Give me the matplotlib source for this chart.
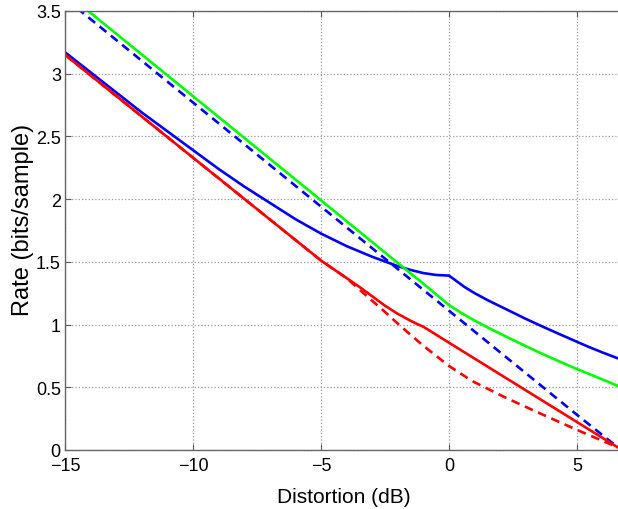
import numpy as np
import matplotlib
matplotlib.use('Agg')
import matplotlib.pyplot as plt
from matplotlib.ticker import FuncFormatter

plt.rcParams['font.family'] = ['Liberation Sans', 'DejaVu Sans']
plt.rcParams['axes.unicode_minus'] = True

# curvas (distorsion en dB, tasa en bits/muestra)
blue_x = [-15, -14, -13, -12, -11, -10, -9, -8, -7, -6, -5, -4, -3, -2, -1.5, -1, -0.5, 0,
          0.3, 0.6, 1, 1.5, 2, 2.5, 3, 3.5, 4, 4.5, 5, 5.5, 6, 6.6]
blue_y = [3.17, 3.01, 2.85, 2.69, 2.54, 2.39, 2.24, 2.10, 1.97, 1.84, 1.725, 1.625, 1.54, 1.465, 1.435, 1.41, 1.395, 1.39,
          1.345, 1.30, 1.25, 1.195, 1.145, 1.095, 1.045, 0.998, 0.952, 0.907, 0.862, 0.818, 0.777, 0.73]

blue_dash_x = [-15, -10, -5, 0, 5, 6.6]
blue_dash_y = [3.60, 2.77, 1.94, 1.11, 0.28, 0.02]

green_x = [-15, -10, -5, -2, -1, -0.5, 0, 0.5, 1, 1.5, 2, 2.5, 3, 3.5, 4, 4.5, 5, 5.5, 6, 6.6]
green_y = [3.65, 2.82, 1.99, 1.49, 1.325, 1.24, 1.155, 1.09, 1.032, 0.978, 0.927, 0.877, 0.828, 0.78, 0.734, 0.689, 0.645, 0.603, 0.562, 0.51]

red_x = [-15, -10, -5, -4.5, -4, -3.5, -3, -2.5, -2, -1.5, -1.2, -1, 0, 6.6]
red_y = [3.15, 2.33, 1.51, 1.44, 1.37, 1.30, 1.225, 1.15, 1.085, 1.03, 1.0, 0.982, 0.855, 0.02]

red_dash_x = [-15, -10, -5, -4.5, -4, -3.2, -2.5, -1.91, -1, 0, 0.9, 2.23, 3.52, 5, 6.6]
red_dash_y = [3.15, 2.33, 1.51, 1.44, 1.37, 1.225, 1.10, 0.99, 0.83, 0.67, 0.55, 0.415, 0.295, 0.16, 0.02]

x_ticks = [-15, -10, -5, 0, 5]
y_ticks = [0, 0.5, 1, 1.5, 2, 2.5, 3, 3.5]

fig = plt.figure(figsize=(6.18, 5.10), dpi=100)
ax = fig.add_axes([0.1052, 0.1157, 0.8948, 0.861])

lw = 1.9
ax.plot(blue_x, blue_y, color='#0000ff', lw=lw)
ax.plot(blue_dash_x, blue_dash_y, color='#0000ff', lw=lw, ls='--', dashes=(3.3, 2.2))
ax.plot(green_x, green_y, color='#00ff00', lw=lw)
ax.plot(red_x, red_y, color='#ff0000', lw=lw)
ax.plot(red_dash_x, red_dash_y, color='#ff0000', lw=lw, ls='--', dashes=(3.3, 2.2))

ax.set_xlim(-15, 6.6)
ax.set_ylim(0, 3.5)
ax.set_xticks(x_ticks)
ax.set_yticks(y_ticks)
ax.yaxis.set_major_formatter(FuncFormatter(lambda v, p: '%g' % v))

ax.grid(True, ls=':', color='0.6', lw=0.9)
ax.tick_params(direction='in', length=4, width=0.8, color='0.35',
               labelsize=13, top=True, pad=3)
ax.tick_params(axis='x', pad=5)
for s in ['left', 'bottom', 'top']:
    ax.spines[s].set_color('0.4')
    ax.spines[s].set_linewidth(1.0)
ax.spines['right'].set_visible(False)

ax.set_xlabel('Distortion (dB)', fontsize=15)
ax.set_ylabel('Rate (bits/sample)', fontsize=17)
ax.xaxis.set_label_coords(0.5035, -0.105)
ax.xaxis.label.set_verticalalignment('center')
ax.yaxis.set_label_coords(-0.076, 0.526)
ax.yaxis.label.set_verticalalignment('center')

fig.savefig('out.png', dpi=100)
